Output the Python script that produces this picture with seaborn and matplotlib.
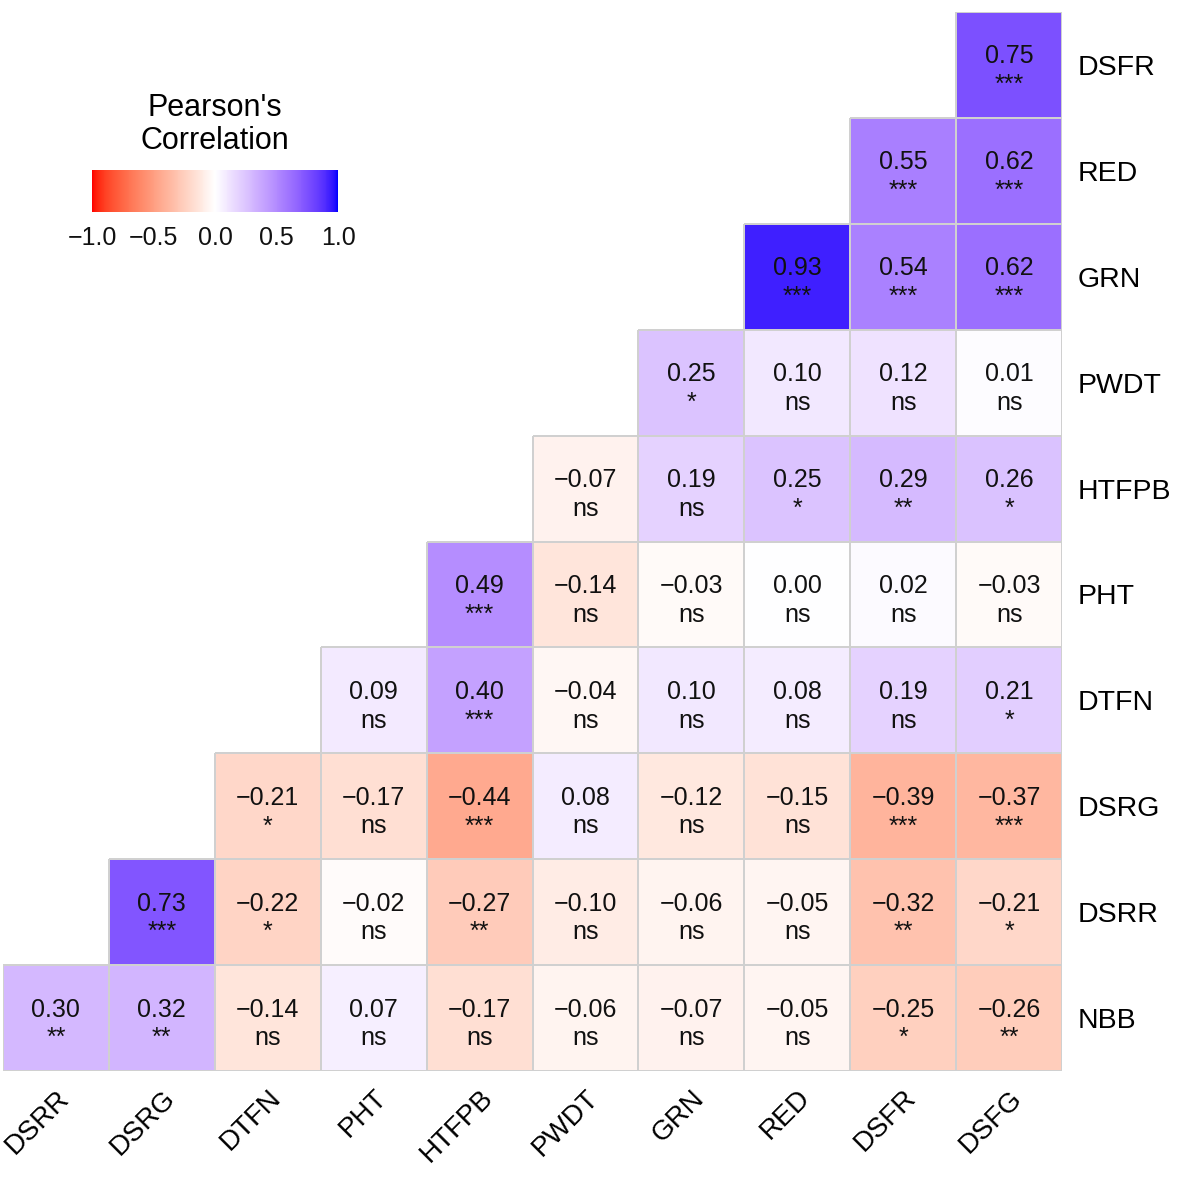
import numpy as np
import pandas as pd
import matplotlib
matplotlib.use("Agg")
import matplotlib.pyplot as plt
from matplotlib.colors import ListedColormap, to_rgba
import seaborn as sns


# traits on the x axis (left to right) and y axis (top to bottom)
x_traits = ["DSRR", "DSRG", "DTFN", "PHT", "HTFPB", "PWDT", "GRN", "RED", "DSFR", "DSFG"]
y_traits = ["DSFR", "RED", "GRN", "PWDT", "HTFPB", "PHT", "DTFN", "DSRG", "DSRR", "NBB"]

# each row fills the right-most cells of the grid
corr_rows = [
    [0.75],
    [0.55, 0.62],
    [0.93, 0.54, 0.62],
    [0.25, 0.10, 0.12, 0.01],
    [-0.07, 0.19, 0.25, 0.29, 0.26],
    [0.49, -0.14, -0.03, 0.00, 0.02, -0.03],
    [0.09, 0.40, -0.04, 0.10, 0.08, 0.19, 0.21],
    [-0.21, -0.17, -0.44, 0.08, -0.12, -0.15, -0.39, -0.37],
    [0.73, -0.22, -0.02, -0.27, -0.10, -0.06, -0.05, -0.32, -0.21],
    [0.30, 0.32, -0.14, 0.07, -0.17, -0.06, -0.07, -0.05, -0.25, -0.26],
]
sig_rows = [
    ["***"],
    ["***", "***"],
    ["***", "***", "***"],
    ["*", "ns", "ns", "ns"],
    ["ns", "ns", "*", "**", "*"],
    ["***", "ns", "ns", "ns", "ns", "ns"],
    ["ns", "***", "ns", "ns", "ns", "ns", "*"],
    ["*", "ns", "***", "ns", "ns", "ns", "***", "***"],
    ["***", "*", "ns", "**", "ns", "ns", "ns", "**", "*"],
    ["**", "**", "ns", "ns", "ns", "ns", "ns", "ns", "*", "**"],
]


# ggplot-like gradient2: red - white - blue, interpolated in Lab space
def _srgb_to_lab(rgb):
    rgb = np.asarray(rgb, dtype=float)
    lin = np.where(rgb <= 0.04045, rgb / 12.92, ((rgb + 0.055) / 1.055) ** 2.4)
    m = np.array([[0.4124, 0.3576, 0.1805],
                  [0.2126, 0.7152, 0.0722],
                  [0.0193, 0.1192, 0.9505]])
    xyz = m @ lin / np.array([0.95047, 1.0, 1.08883])
    f = np.where(xyz > 0.008856, np.cbrt(xyz), 7.787 * xyz + 16 / 116)
    return np.array([116 * f[1] - 16, 500 * (f[0] - f[1]), 200 * (f[1] - f[2])])


def _lab_to_srgb(lab):
    L, a, b = lab
    fy = (L + 16) / 116
    fx = fy + a / 500
    fz = fy - b / 200
    f = np.array([fx, fy, fz])
    xyz = np.where(f ** 3 > 0.008856, f ** 3, (f - 16 / 116) / 7.787)
    xyz = xyz * np.array([0.95047, 1.0, 1.08883])
    m_inv = np.array([[3.2406, -1.5372, -0.4986],
                      [-0.9689, 1.8758, 0.0415],
                      [0.0557, -0.2040, 1.0570]])
    lin = m_inv @ xyz
    rgb = np.where(lin <= 0.0031308, 12.92 * lin, 1.055 * np.clip(lin, 0, None) ** (1 / 2.4) - 0.055)
    return np.clip(rgb, 0, 1)


def lab_diverging_cmap(low, mid, high, n=256):
    lo, mi, hi = _srgb_to_lab(low), _srgb_to_lab(mid), _srgb_to_lab(high)
    cols = []
    for t in np.linspace(0, 1, n):
        if t < 0.5:
            lab = lo + (mi - lo) * (t / 0.5)
        else:
            lab = mi + (hi - mi) * ((t - 0.5) / 0.5)
        cols.append(_lab_to_srgb(lab))
    return ListedColormap(cols)


n = len(x_traits)
values = np.full((n, n), np.nan)
for i, r_vals in enumerate(corr_rows):
    values[i, n - len(r_vals):] = r_vals

df = pd.DataFrame(values, index=y_traits, columns=x_traits)

sns.set_style("white")
plt.rcParams["font.family"] = ["Liberation Sans", "DejaVu Sans"]
plt.rcParams["text.color"] = "black"
plt.rcParams["xtick.color"] = "black"
plt.rcParams["ytick.color"] = "black"

cmap = lab_diverging_cmap((1, 0, 0), (1, 1, 1), (0, 0, 1))

fig = plt.figure(figsize=(11.81, 11.77), dpi=100)
ax = fig.add_axes([0.0025, 0.0900, 0.8968, 0.8998])
sns.heatmap(df, ax=ax, cmap=cmap, vmin=-1, vmax=1, cbar=False,
            linewidths=1.2, linecolor="#d0d0d0")

# hide the borders of the empty (upper) cells
mesh = ax.collections[0]
edge = np.tile(to_rgba("#d0d0d0"), (n * n, 1))
edge[np.isnan(values).ravel(), 3] = 0
mesh.set_edgecolor(edge)

# value on top, significance below
for i, (r_vals, s_vals) in enumerate(zip(corr_rows, sig_rows)):
    start = n - len(r_vals)
    for j, (v, s) in enumerate(zip(r_vals, s_vals)):
        txt = f"{v:.2f}".replace("-", "\u2212")
        ax.text(start + j + 0.5, i + 0.42, txt, ha="center", va="center", fontsize=18, color="#111111")
        ax.text(start + j + 0.5, i + 0.69, s, ha="center", va="center", fontsize=18, color="#111111")

ax.yaxis.tick_right()
ax.set_yticklabels(y_traits, rotation=0, fontsize=20.5)
ax.set_xticklabels(x_traits, rotation=45, ha="right", va="top", rotation_mode="anchor", fontsize=20)
ax.tick_params(axis="both", length=0)
ax.tick_params(axis="y", pad=11)
ax.tick_params(axis="x", pad=10)
ax.set_xlabel("")
ax.set_ylabel("")

# horizontal colour bar, top left
cax = fig.add_axes([0.0779, 0.8199, 0.2083, 0.0357])
cbar = fig.colorbar(mesh, cax=cax, orientation="horizontal")
cbar.outline.set_visible(False)
cbar.set_ticks([-1.0, -0.5, 0.0, 0.5, 1.0])
cbar.set_ticklabels(["\u22121.0", "\u22120.5", "0.0", "0.5", "1.0"])
cax.tick_params(axis="x", direction="in", colors="white", length=7, width=1.5,
                top=True, bottom=True, labelsize=18, labelcolor="#111111", pad=10)
cax.set_title("Pearson's\nCorrelation", fontsize=22, pad=15, linespacing=1.12)

fig.savefig("out.png", dpi=100)
